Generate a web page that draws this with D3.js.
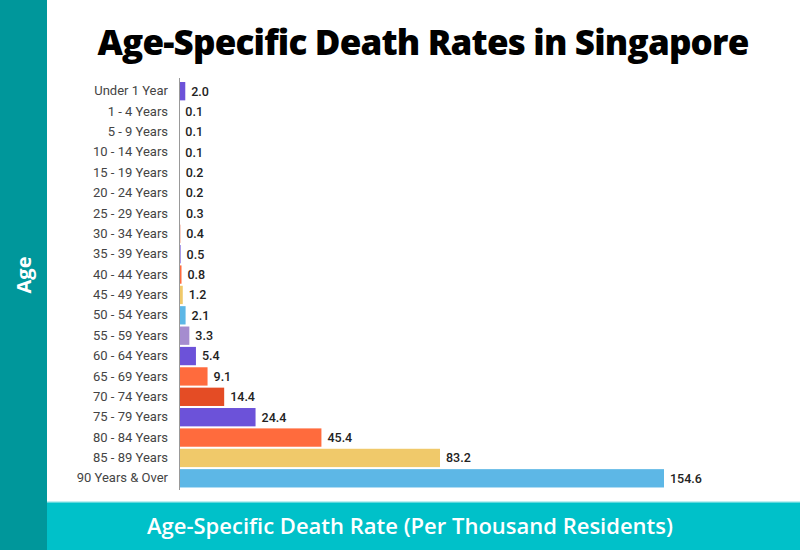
<!DOCTYPE html>
<html>
<head>
<meta charset="utf-8">
<script src="https://cdn.jsdelivr.net/npm/d3@7"></script>
<style>
  body { margin: 0; background: #fff; }
  svg { display: block; }
</style>
</head>
<body>
<div id="chart"></div>
<script>
const ageGroups = ['Under 1 Year', '1 - 4 Years', '5 - 9 Years', '10 - 14 Years', '15 - 19 Years',
  '20 - 24 Years', '25 - 29 Years', '30 - 34 Years', '35 - 39 Years', '40 - 44 Years',
  '45 - 49 Years', '50 - 54 Years', '55 - 59 Years', '60 - 64 Years', '65 - 69 Years',
  '70 - 74 Years', '75 - 79 Years', '80 - 84 Years', '85 - 89 Years', '90 Years & Over'];
const rates = [2.0, 0.1, 0.1, 0.1, 0.2, 0.2, 0.3, 0.4, 0.5, 0.8, 1.2, 2.1, 3.3, 5.4, 9.1, 14.4, 24.4, 45.4, 83.2, 154.6];
const barColors = ['#6c52d9', '#ff6b3d', '#5db7e6', '#5db7e6', '#a58ccf', '#6c52d9', '#ff6b3d', '#e44c25',
  '#6c52d9', '#ff6b3d', '#f0c96a', '#5db7e6', '#a58ccf', '#6c52d9', '#ff6b3d', '#e44c25',
  '#6c52d9', '#ff6b3d', '#f0c96a', '#5db7e6'];

const width = 800, height = 550;
const data = ageGroups.map((g, i) => ({group: g, rate: rates[i], color: barColors[i]}));

const svg = d3.select('#chart').append('svg')
    .attr('width', width)
    .attr('height', height);

// side and bottom bands
svg.append('rect').attr('x', 0).attr('y', 0).attr('width', 47).attr('height', height).attr('fill', '#00979b');
svg.append('rect').attr('x', 47).attr('y', 502).attr('width', width - 47).attr('height', 48).attr('fill', '#00c1c9');
svg.append('rect').attr('x', 47).attr('y', 501).attr('width', width - 47).attr('height', 1.5).attr('fill', '#bfeff1');

svg.append('text')
    .attr('x', 423).attr('y', 55)
    .attr('text-anchor', 'middle')
    .style('font-family', 'Open Sans')
    .style('font-weight', 800)
    .style('font-size', '35px')
    .style('letter-spacing', '-0.8px')
    .style('fill', '#000')
    .text('Age-Specific Death Rates in Singapore');

svg.append('text')
    .attr('transform', 'translate(31,275) rotate(-90)')
    .attr('text-anchor', 'middle')
    .style('font-family', 'Open Sans')
    .style('font-weight', 700)
    .style('font-size', '20px')
    .style('fill', '#fff')
    .text('Age');

svg.append('text')
    .attr('x', 410).attr('y', 534)
    .attr('text-anchor', 'middle')
    .style('font-family', 'Open Sans')
    .style('font-weight', 600)
    .style('font-size', '22px')
    .style('fill', '#fff')
    .text('Age-Specific Death Rate (Per Thousand Residents)');

const x = d3.scaleLinear().domain([0, 154.6]).range([179, 664]);
const y = d3.scaleBand().domain(ageGroups).range([81, 488.5]).paddingInner(0.1).paddingOuter(0.05);

const g = svg.append('g');

g.selectAll('rect.bar')
  .data(data).enter().append('rect')
    .attr('class', 'bar')
    .attr('x', x(0))
    .attr('y', (d) => y(d.group))
    .attr('width', (d) => x(d.rate) - x(0))
    .attr('height', y.bandwidth())
    .attr('fill', (d) => d.color);

const yAxis = g.append('g')
    .attr('transform', 'translate(' + x(0) + ',0)')
    .call(d3.axisLeft(y).tickSize(0).tickPadding(11));
yAxis.select('.domain').attr('stroke', '#999').attr('d', 'M0.5,78V490');
yAxis.selectAll('text')
    .style('font-family', 'Roboto')
    .style('font-size', '13px')
    .style('fill', '#444');

g.selectAll('text.value')
  .data(data).enter().append('text')
    .attr('class', 'value')
    .attr('x', (d) => x(d.rate) + 6)
    .attr('y', (d) => y(d.group) + y.bandwidth() / 2)
    .attr('dy', '0.35em')
    .style('font-family', 'Roboto')
    .style('font-weight', 500)
    .style('font-size', '12.5px')
    .style('fill', '#222')
    .text((d) => d3.format('.1f')(d.rate));
</script>
</body>
</html>
